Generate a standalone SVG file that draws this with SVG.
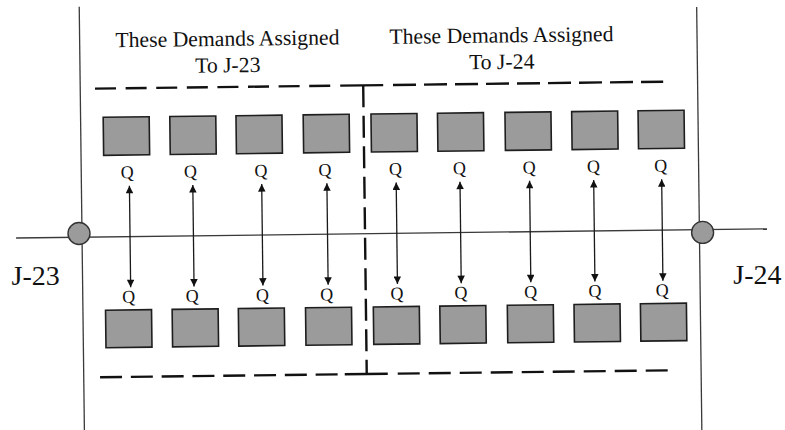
<svg xmlns="http://www.w3.org/2000/svg" width="785" height="430" viewBox="0 0 785 430">
  <style>
    .box { fill: #9b9b9b; stroke: #1e1e1e; stroke-width: 1.6; }
    .node { fill: #9b9b9b; stroke: #333; stroke-width: 1.4; }
    .frame { stroke: #3a3a3a; stroke-width: 1.3; fill: none; }
    .dash { stroke: #111; stroke-width: 2.4; fill: none; }
    .arrow { stroke: #1a1a1a; stroke-width: 1.3; fill: none; marker-start: url(#ah); marker-end: url(#ah); }
    text { font-family: 'Liberation Serif', 'DejaVu Serif', 'Times New Roman', serif; fill: #111; }
    .hdr { font-size: 21.7px; text-anchor: middle; }
    .q { font-size: 18px; text-anchor: middle; }
    .lbl { font-size: 28px; }
  </style>
  <defs>
    <marker id="ah" viewBox="0 0 10 10" refX="10" refY="5" markerWidth="8.5" markerHeight="7.5" markerUnits="userSpaceOnUse" orient="auto-start-reverse">
      <path d="M0,0 L10,5 L0,10 z" fill="#111"/>
    </marker>
  </defs>
  <rect width="785" height="430" fill="#fff"/>
  <g transform="rotate(-0.7 392 232)" font-family="Liberation Serif, DejaVu Serif, serif">
    <g id="frame">
      <line class="frame" x1="82" y1="3" x2="82" y2="445"/>
      <line class="frame" x1="699.4" y1="10.7" x2="699.4" y2="445"/>
      <line class="frame" x1="16" y1="233.4" x2="767" y2="233.4"/>
    </g>
    <g id="partition">
      <line class="dash" x1="96.8" y1="85" x2="340" y2="85" stroke-dasharray="21 9.6"/>
      <line class="dash" x1="342" y1="85" x2="385" y2="85"/>
      <line class="dash" x1="394.8" y1="85" x2="665" y2="85" stroke-dasharray="23 8"/>
      <line class="dash" x1="98.3" y1="373.7" x2="341" y2="373.7" stroke-dasharray="22 8.8"/>
      <line class="dash" x1="343" y1="373.7" x2="386" y2="373.7"/>
      <line class="dash" x1="396" y1="373.7" x2="667" y2="373.7" stroke-dasharray="22 9"/>
      <line class="dash" x1="365" y1="85" x2="365" y2="374.5" stroke-dasharray="22 8.5"/>
    </g>
    <g id="header-left">
      <text class="hdr" x="229.8" y="43.8">These Demands Assigned</text>
      <text class="hdr" x="229.8" y="70.3">To J-23</text>
    </g>
    <g id="header-right">
      <text class="hdr" x="503.8" y="43.8">These Demands Assigned</text>
      <text class="hdr" x="503.8" y="70.3">To J-24</text>
    </g>
    <g id="demands-top">
      <rect class="box" x="104.6" y="113.8" width="46" height="38"/>
      <rect class="box" x="171.2" y="113.8" width="46" height="38"/>
      <rect class="box" x="237.4" y="113.8" width="46" height="38"/>
      <rect class="box" x="304.6" y="113.8" width="46" height="38"/>
      <rect class="box" x="372.4" y="113.8" width="46" height="38"/>
      <rect class="box" x="438.9" y="113.8" width="46" height="38"/>
      <rect class="box" x="506.4" y="113.8" width="46" height="38"/>
      <rect class="box" x="573.1" y="113.8" width="46" height="38"/>
      <rect class="box" x="639.5" y="113.8" width="46" height="38"/>
    </g>
    <g id="demands-bottom">
      <rect class="box" x="104.6" y="306.7" width="46" height="37.5"/>
      <rect class="box" x="171.2" y="306.7" width="46" height="37.5"/>
      <rect class="box" x="237.4" y="306.7" width="46" height="37.5"/>
      <rect class="box" x="304.6" y="306.7" width="46" height="37.5"/>
      <rect class="box" x="372.4" y="306.7" width="46" height="37.5"/>
      <rect class="box" x="438.9" y="306.7" width="46" height="37.5"/>
      <rect class="box" x="506.4" y="306.7" width="46" height="37.5"/>
      <rect class="box" x="573.1" y="306.7" width="46" height="37.5"/>
      <rect class="box" x="639.5" y="306.7" width="46" height="37.5"/>
    </g>
    <g id="q-top">
      <text class="q" x="128" y="175">Q</text>
      <text class="q" x="191.3" y="175">Q</text>
      <text class="q" x="261.7" y="175">Q</text>
      <text class="q" x="325.8" y="175">Q</text>
      <text class="q" x="396.2" y="175">Q</text>
      <text class="q" x="460.3" y="175">Q</text>
      <text class="q" x="530" y="175">Q</text>
      <text class="q" x="594.1" y="175">Q</text>
      <text class="q" x="661.5" y="175">Q</text>
    </g>
    <g id="q-bottom">
      <text class="q" x="128" y="299.5">Q</text>
      <text class="q" x="191.3" y="299.5">Q</text>
      <text class="q" x="261.7" y="299.5">Q</text>
      <text class="q" x="325.8" y="299.5">Q</text>
      <text class="q" x="396.2" y="299.5">Q</text>
      <text class="q" x="460.3" y="299.5">Q</text>
      <text class="q" x="530" y="299.5">Q</text>
      <text class="q" x="594.1" y="299.5">Q</text>
      <text class="q" x="661.5" y="299.5">Q</text>
    </g>
    <g id="connectors">
      <line class="arrow" x1="130" y1="182.5" x2="130" y2="284"/>
      <line class="arrow" x1="193.4" y1="182.5" x2="193.4" y2="284"/>
      <line class="arrow" x1="262.3" y1="182.5" x2="262.3" y2="284"/>
      <line class="arrow" x1="327.5" y1="182.5" x2="327.5" y2="284"/>
      <line class="arrow" x1="396.8" y1="182.5" x2="396.8" y2="284"/>
      <line class="arrow" x1="460.6" y1="182.5" x2="460.6" y2="284"/>
      <line class="arrow" x1="530.2" y1="182.5" x2="530.2" y2="284"/>
      <line class="arrow" x1="594.3" y1="182.5" x2="594.3" y2="284"/>
      <line class="arrow" x1="662.3" y1="182.5" x2="662.3" y2="284"/>
    </g>
  </g>
  <g id="J-23">
    <circle class="node" cx="79" cy="233.5" r="11"/>
    <text class="lbl" x="11.5" y="285">J-23</text>
  </g>
  <g id="J-24">
    <circle class="node" cx="702.6" cy="232.4" r="11"/>
    <text class="lbl" x="733.3" y="284">J-24</text>
  </g>
</svg>
